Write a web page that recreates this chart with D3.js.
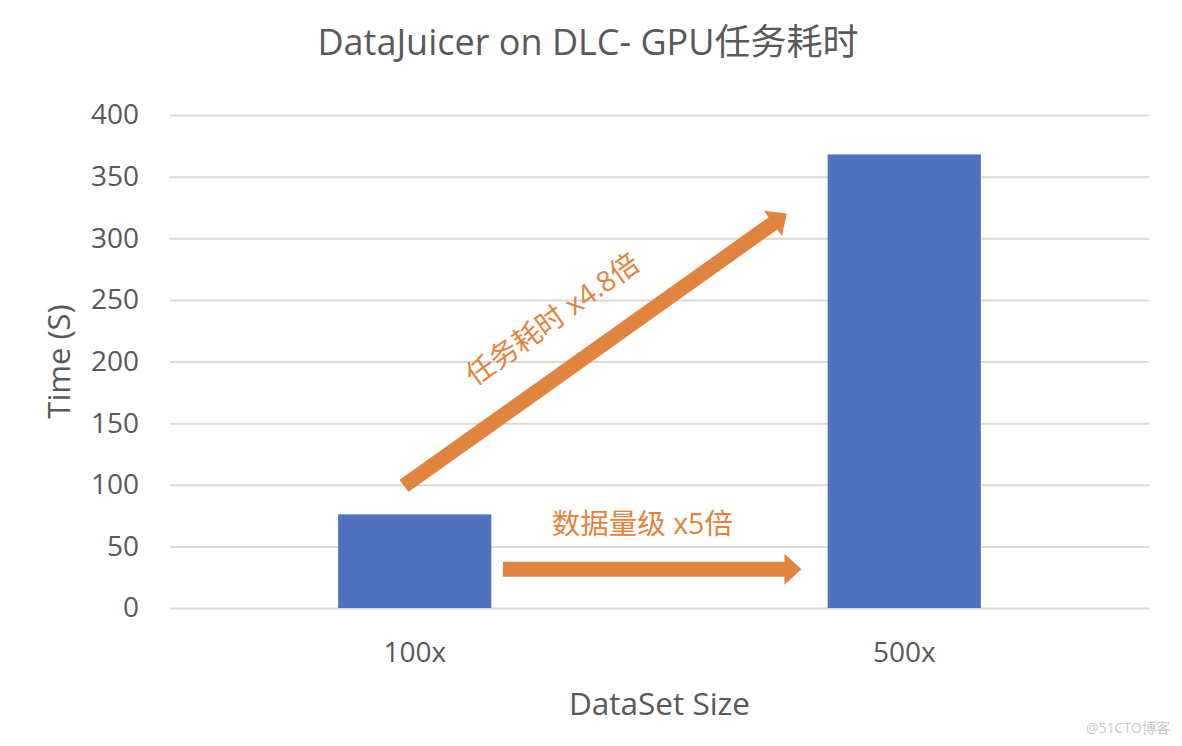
<!DOCTYPE html>
<html>
<head>
<meta charset="utf-8">
<script src="https://cdn.jsdelivr.net/npm/d3@7"></script>
<style>
  body { margin: 0; background: #fff; }
  text { font-family: "Open Sans", "Noto Sans CJK SC", sans-serif; }
</style>
</head>
<body>
<div id="chart"></div>
<script>
// chart data
const categories = ["100x", "500x"];
const times = [76, 368];
const yTicks = [0, 50, 100, 150, 200, 250, 300, 350, 400];

// annotations, in data units: x is a category index (0 = 100x, 1 = 500x), y is time
const growthArrow = [[-0.022, 99], [0.76, 320]];
const growthLabel = { text: "任务耗时 x4.8倍", at: [0.28, 235] };
const sizeArrow = [[0.18, 31.5], [0.79, 31.5]];
const sizeLabel = { text: "数据量级 x5倍", at: [0.465, 69] };

const width = 1182;
const height = 746;
const margin = { top: 115, right: 33, bottom: 138, left: 170 };

const blue = "#4f71be";
const orange = "#e0843f";
const grey = "#595959";

const svg = d3.select("#chart").append("svg")
  .attr("width", width)
  .attr("height", height);

const x = d3.scaleBand()
  .domain(categories)
  .range([margin.left, width - margin.right])
  .paddingInner(0.687)
  .paddingOuter(0.3435);

const y = d3.scaleLinear()
  .domain([0, 400])
  .range([height - margin.bottom, margin.top]);

// category index -> centre of its band
const xi = d3.scaleLinear()
  .domain([0, 1])
  .range(categories.map(c => x(c) + x.bandwidth() / 2));

// grid + y axis labels
const yAxis = svg.append("g")
  .attr("transform", `translate(${margin.left},0)`)
  .call(d3.axisLeft(y).tickValues(yTicks).tickSize(-(width - margin.left - margin.right)).tickPadding(31));
yAxis.select(".domain").remove();
yAxis.selectAll(".tick line").attr("stroke", "#d9d9d9").attr("stroke-width", 2);
yAxis.selectAll(".tick text")
  .attr("fill", grey)
  .style("font-size", "28px");

// bars
svg.append("g")
  .selectAll("rect")
  .data(categories)
  .join("rect")
    .attr("x", d => x(d))
    .attr("y", (d, i) => y(times[i]))
    .attr("width", x.bandwidth())
    .attr("height", (d, i) => y(0) - y(times[i]))
    .attr("fill", blue);

// x axis labels
const xAxis = svg.append("g")
  .attr("transform", `translate(0,${y(0)})`)
  .call(d3.axisBottom(x).tickSize(0).tickPadding(34));
xAxis.select(".domain").remove();
xAxis.selectAll(".tick text")
  .attr("fill", grey)
  .style("font-size", "28px");

// arrows
function arrowPath(p0, p1, shaft, headLen, headW) {
  const dx = p1[0] - p0[0], dy = p1[1] - p0[1];
  const len = Math.hypot(dx, dy);
  const ux = dx / len, uy = dy / len;
  const nx = -uy, ny = ux;
  const bx = p1[0] - ux * headLen, by = p1[1] - uy * headLen;
  const s = shaft / 2, h = headW / 2;
  const pts = [
    [p0[0] + nx * s, p0[1] + ny * s],
    [bx + nx * s, by + ny * s],
    [bx + nx * h, by + ny * h],
    p1,
    [bx - nx * h, by - ny * h],
    [bx - nx * s, by - ny * s],
    [p0[0] - nx * s, p0[1] - ny * s]
  ];
  return "M" + pts.map(p => p.join(",")).join("L") + "Z";
}

const toPx = d => [xi(d[0]), y(d[1])];

[growthArrow, sizeArrow].forEach(a => {
  svg.append("path")
    .attr("d", arrowPath(toPx(a[0]), toPx(a[1]), 15, 17, 31))
    .attr("fill", orange);
});

const g0 = toPx(growthArrow[0]), g1 = toPx(growthArrow[1]);
const angle = Math.atan2(g1[1] - g0[1], g1[0] - g0[0]) * 180 / Math.PI;
const gl = toPx(growthLabel.at);
svg.append("text")
  .attr("transform", `translate(${gl[0]},${gl[1]}) rotate(${angle})`)
  .attr("text-anchor", "middle")
  .attr("dominant-baseline", "central")
  .attr("fill", orange)
  .style("font-size", "28.5px")
  .text(growthLabel.text);

const sl = toPx(sizeLabel.at);
svg.append("text")
  .attr("x", sl[0])
  .attr("y", sl[1])
  .attr("text-anchor", "middle")
  .attr("dominant-baseline", "central")
  .attr("fill", orange)
  .style("font-size", "28.5px")
  .text(sizeLabel.text);

// titles
svg.append("text")
  .attr("x", 588)
  .attr("y", 55)
  .attr("text-anchor", "middle")
  .attr("fill", grey)
  .style("font-size", "36px")
  .text("DataJuicer on DLC- GPU任务耗时");

svg.append("text")
  .attr("transform", `translate(58,${(y(0) + y(400)) / 2}) rotate(-90)`)
  .attr("text-anchor", "middle")
  .attr("dominant-baseline", "central")
  .attr("fill", grey)
  .style("font-size", "31px")
  .text("Time (S)");

svg.append("text")
  .attr("x", (width + margin.left - margin.right) / 2)
  .attr("y", 715)
  .attr("text-anchor", "middle")
  .attr("fill", grey)
  .style("font-size", "31.5px")
  .text("DataSet Size");

svg.append("text")
  .attr("x", 1170)
  .attr("y", 733)
  .attr("text-anchor", "end")
  .attr("fill", "#c8c8c8")
  .style("font-size", "14px")
  .text("@51CTO博客");
</script>
</body>
</html>
